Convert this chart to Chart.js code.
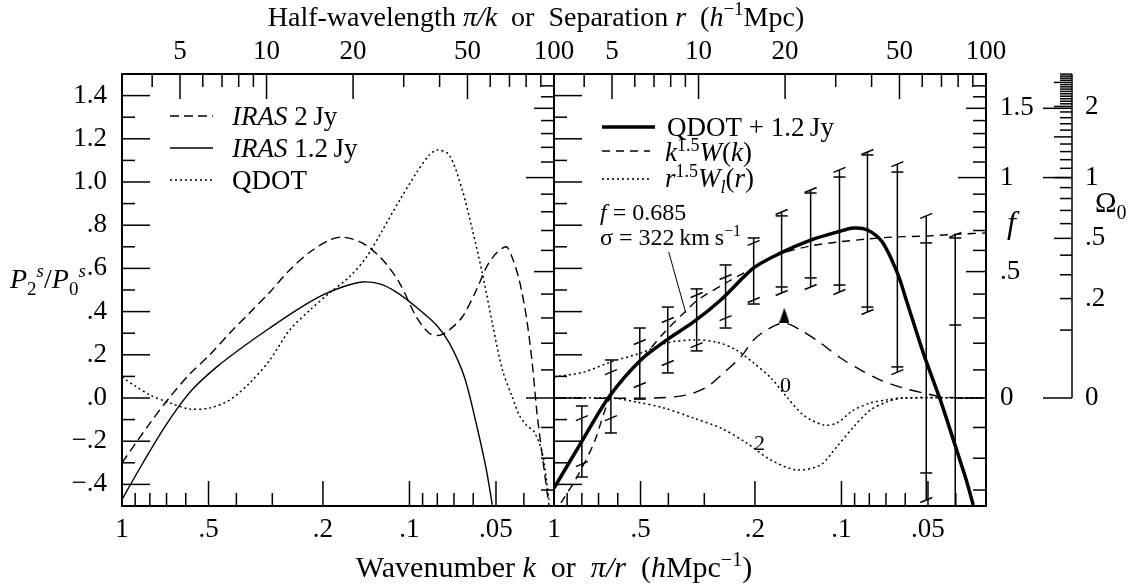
<!DOCTYPE html>
<html>
<head>
<meta charset="utf-8">
<title>P2/P0 ratio</title>
<script src="https://cdn.jsdelivr.net/npm/chart.js@4.4.1/dist/chart.umd.min.js"></script>
<style>
  html, body { margin: 0; padding: 0; background: #fff; }
  #wrap { width: 1140px; height: 588px; }
</style>
</head>
<body>
<div id="wrap"><canvas id="ratioChart" width="1140" height="588"></canvas></div>
<script>
const serif = "'Liberation Serif', 'Times New Roman', 'DejaVu Serif', serif";

// 左圖：IRAS 2 Jy / IRAS 1.2 Jy / QDOT 的 P2/P0
const kIras2 = [1.0, 0.799, 0.681, 0.581, 0.495, 0.422, 0.360, 0.306, 0.261, 0.222, 0.190, 0.171, 0.146, 0.124, 0.108, 0.0946, 0.0853, 0.0787, 0.0727, 0.0655, 0.0585, 0.0540, 0.0499, 0.0460, 0.0439, 0.0415, 0.0392, 0.0374, 0.0360, 0.0340, 0.0327];
const pIras2 = [-0.30, -0.116, 0.005, 0.111, 0.20, 0.30, 0.394, 0.49, 0.593, 0.676, 0.731, 0.745, 0.718, 0.64, 0.53, 0.375, 0.30, 0.29, 0.315, 0.375, 0.50, 0.605, 0.67, 0.70, 0.65, 0.546, 0.375, 0.162, -0.07, -0.333, -0.50];

const kIras12 = [1.0, 0.866, 0.721, 0.629, 0.567, 0.468, 0.380, 0.306, 0.247, 0.200, 0.171, 0.146, 0.127, 0.111, 0.0946, 0.0806, 0.0727, 0.0644, 0.0581, 0.0540, 0.0515];
const pIras12 = [-0.47, -0.324, -0.148, -0.032, 0.042, 0.144, 0.236, 0.324, 0.407, 0.477, 0.514, 0.537, 0.528, 0.49, 0.42, 0.338, 0.255, 0.097, -0.139, -0.333, -0.495];

const kQdot = [1.0, 0.901, 0.799, 0.681, 0.581, 0.495, 0.422, 0.360, 0.306, 0.261, 0.222, 0.190, 0.162, 0.141, 0.124, 0.108, 0.0946, 0.0853, 0.0799, 0.0727, 0.0655, 0.0604, 0.0558, 0.0515, 0.0475, 0.0439, 0.0415, 0.0392, 0.0368, 0.0345, 0.0327];
const pQdot = [0.097, 0.056, 0.014, -0.023, -0.051, -0.046, -0.009, 0.069, 0.176, 0.315, 0.407, 0.486, 0.56, 0.653, 0.778, 0.917, 1.042, 1.125, 1.148, 1.125, 0.963, 0.778, 0.579, 0.347, 0.13, 0.005, -0.079, -0.125, -0.157, -0.255, -0.472];

// 右圖：QDOT + 1.2 Jy 合併結果與模型
const kFit = [1.0, 0.806, 0.644, 0.499, 0.405, 0.327, 0.263, 0.202, 0.163, 0.128, 0.103, 0.0908, 0.0812, 0.0721, 0.0639, 0.0595, 0.0519, 0.0453, 0.0408, 0.0368, 0.0348];
const pFit = [-0.417, -0.208, 0.005, 0.176, 0.269, 0.352, 0.454, 0.602, 0.671, 0.731, 0.769, 0.787, 0.778, 0.722, 0.579, 0.454, 0.208, -0.009, -0.194, -0.38, -0.495];

const kModel = [0.946, 0.832, 0.726, 0.644, 0.571, 0.499, 0.415, 0.345, 0.316, 0.249, 0.191, 0.163, 0.128, 0.103, 0.0812, 0.0660, 0.0503, 0.0386, 0.0314];
const pModel = [-0.486, -0.366, -0.208, -0.009, 0.093, 0.176, 0.301, 0.407, 0.454, 0.537, 0.62, 0.667, 0.704, 0.722, 0.736, 0.745, 0.75, 0.759, 0.764];

const kWin = [1.0, 0.450, 0.345, 0.294, 0.257, 0.224, 0.202, 0.182, 0.159, 0.1388, 0.1183, 0.1007, 0.0859, 0.0732, 0.0609, 0.0519, 0.0442, 0.0377, 0.0314];
const pWin = [0, 0, 0.014, 0.051, 0.116, 0.19, 0.269, 0.315, 0.347, 0.315, 0.255, 0.185, 0.13, 0.083, 0.046, 0.023, 0.005, 0, 0];

const kWr0 = [1.0, 0.787, 0.634, 0.499, 0.405, 0.327, 0.272, 0.232, 0.202, 0.176, 0.155, 0.1355, 0.1155, 0.104, 0.0908, 0.0793, 0.0698, 0.0609, 0.0314];
const pWr0 = [0.097, 0.12, 0.167, 0.208, 0.255, 0.269, 0.259, 0.222, 0.162, 0.093, 0.005, -0.079, -0.125, -0.116, -0.056, -0.023, -0.009, 0, 0];

const kWr2 = [1.0, 0.634, 0.515, 0.415, 0.327, 0.263, 0.214, 0.176, 0.1433, 0.1183, 0.104, 0.0908, 0.0793, 0.0698, 0.0609, 0.0314];
const pWr2 = [0, 0, -0.019, -0.046, -0.093, -0.139, -0.208, -0.287, -0.333, -0.31, -0.227, -0.134, -0.056, -0.019, 0, 0];

// 誤差棒：水平帽 (hi/lo) 與斜帽 (hiT/loT)
const kBars = [0.80, 0.634, 0.503, 0.402, 0.319, 0.253, 0.202, 0.1615, 0.128, 0.1016, 0.0812, 0.0639, 0.0507, 0.0402];
const barHi = [-0.037, 0.176, 0.324, 0.421, 0.505, 0.616, 0.741, 0.843, 0.949, 1.023, 1.125, 1.046, 0.718, 0.741];
const barLo = [-0.366, -0.162, -0.005, 0.116, 0.218, 0.324, 0.435, 0.514, 0.556, 0.523, 0.421, 0.144, -0.347, 0.338];
const barHiT = [-0.093, 0.12, 0.259, 0.361, 0.477, 0.56, 0.718, 0.861, 0.963, 1.056, 1.139, 1.083, 0.843, 0.755];
const barLoT = [-0.306, -0.093, 0.06, 0.162, 0.245, 0.37, 0.454, 0.486, 0.514, 0.491, 0.398, 0.12, -0.472, -0.62];

// 箭頭與註解指標線
const kArrow = [0.158];
const pArrow = [0.384];
const kPointer = [0.399, 0.348];
const pPointer = [0.676, 0.394];

// 刻度
const kTickVals = [1, 0.5, 0.2, 0.1, 0.05];
const kTickLabels = ['1', '.5', '.2', '.1', '.05'];
const kMinor = [0.9, 0.8, 0.7, 0.6, 0.4, 0.3, 0.09, 0.08, 0.07, 0.06, 0.04];
const rTickVals = [5, 10, 20, 50, 100];
const rMinor = [4, 6, 7, 8, 9, 30, 40, 60, 70, 80, 90];
const yTickVals = [-0.4, -0.2, 0, 0.2, 0.4, 0.6, 0.8, 1.0, 1.2, 1.4];
const yTickLabels = ['\u2212.4', '\u2212.2', '.0', '.2', '.4', '.6', '.8', '1.0', '1.2', '1.4'];
const fTickVals = [0, 0.5, 1, 1.5];
const fTickLabels = ['0', '.5', '1', '1.5'];
const omegaTickVals = [0, 0.2, 0.5, 1, 2];
const omegaTickLabels = ['0', '.2', '.5', '1', '2'];

const Y_MIN = -0.5, Y_MAX = 1.5;
const K_MIN = Math.PI / 100, K_MAX = 1;

// 線性理論 (bias = 1)：f 對應到 P2/P0 軸，Omega0 = f^(1/0.6)
function ratioFromF(f) {
  return (4 * f / 3 + 4 * f * f / 7) / (1 + 2 * f / 3 + f * f / 5);
}
const ratioFromOmega = o => ratioFromF(Math.pow(o, 0.6));

const dashIras2 = [9, 5];
const dashModel = [8, 6];
const dashWin = [12, 8];
const dots = [2, 3];

const pts = (ks, ps) => ks.map((k, i) => ({ x: k, y: ps[i] }));
function curve(label, ks, ps, axis, style) {
  return Object.assign({
    type: 'line', label, data: pts(ks, ps), xAxisID: axis, yAxisID: 'y',
    borderColor: '#000', backgroundColor: '#000', borderWidth: 1.4,
    pointRadius: 0, fill: false, tension: 0.3
  }, style);
}

// 三角箭頭
const tri = document.createElement('canvas');
tri.width = 10; tri.height = 15;
const tctx = tri.getContext('2d');
tctx.beginPath(); tctx.moveTo(5, 0); tctx.lineTo(10, 15); tctx.lineTo(0, 15); tctx.closePath();
tctx.fillStyle = '#000'; tctx.fill();

function seg(ctx, x1, y1, x2, y2) {
  ctx.beginPath(); ctx.moveTo(x1, y1); ctx.lineTo(x2, y2); ctx.stroke();
}

function fontStr(size, italic) {
  return (italic ? 'italic ' : '') + size + 'px ' + serif;
}

// 混合斜體、上下標的文字
function rich(ctx, parts, x, y, size, align) {
  const segs = parts.map(([t, st]) => {
    const small = st.includes('sup') || st.includes('sub');
    const f = fontStr(small ? Math.round(size * 0.68) : size, st.startsWith('i'));
    ctx.font = f;
    const dy = st.includes('sup') ? -size * 0.38 : st.includes('sub') ? size * 0.24 : 0;
    return { t, f, dy, w: ctx.measureText(t).width };
  });
  const total = segs.reduce((a, s) => a + s.w, 0);
  let cx = align === 'center' ? x - total / 2 : align === 'right' ? x - total : x;
  ctx.textAlign = 'left';
  ctx.textBaseline = 'alphabetic';
  for (const s of segs) {
    ctx.font = s.f;
    ctx.fillText(s.t, cx, y + s.dy);
    cx += s.w;
  }
}

const tickFont = { family: serif, size: 27 };

function kAxis(position, stack, vals, labels, height, pad) {
  return {
    type: 'logarithmic', position, stack, min: K_MIN, max: K_MAX, reverse: true, bounds: 'data',
    grid: { display: false, drawTicks: false }, border: { display: false },
    afterBuildTicks: s => { s.ticks = vals.map((v, i) => ({ value: v, lab: labels[i] })); },
    afterFit: s => { s.height = height; },
    ticks: { autoSkip: false, maxRotation: 0, color: '#000', font: tickFont, padding: pad, callback: (v, i, t) => t[i].lab }
  };
}

function yAxis(position, vals, labels, width, pad) {
  return {
    type: 'linear', position, min: Y_MIN, max: Y_MAX, bounds: 'data',
    grid: { display: false, drawTicks: false }, border: { display: false },
    afterBuildTicks: s => { s.ticks = vals.map((v, i) => ({ value: v, lab: labels[i] })); },
    afterFit: s => { s.width = width; },
    ticks: { autoSkip: false, color: '#000', font: tickFont, padding: pad, callback: (v, i, t) => t[i].lab }
  };
}

const rVals = rTickVals.map(r => Math.PI / r);
const rLabels = rTickVals.map(String);

// 邊框與向內刻度、Omega0 軸、誤差棒
const marksPlugin = {
  id: 'marks',
  afterDatasetsDraw(chart) {
    const { ctx, chartArea: a, scales: s } = chart;
    const py = v => s.y.getPixelForValue(v);
    ctx.save();
    ctx.strokeStyle = '#000';
    ctx.setLineDash([]);

    // error bars
    ctx.lineWidth = 1.5;
    kBars.forEach((k, i) => {
      const x = s.xr.getPixelForValue(k);
      const top = Math.max(barHi[i], barHiT[i]);
      const bot = Math.min(barLo[i], barLoT[i]);
      seg(ctx, x, Math.max(py(top), a.top), x, Math.min(py(bot), a.bottom));
      [barHi[i], barLo[i]].forEach(v => {
        const y = py(v);
        if (y >= a.top && y <= a.bottom) seg(ctx, x - 6, y, x + 6, y);
      });
      [barHiT[i], barLoT[i]].forEach(v => {
        const y = py(v);
        if (y >= a.top && y <= a.bottom) seg(ctx, x - 6, y + 2.5, x + 6, y - 2.5);
      });
    });

    for (const [bx, tx] of [[s.xl, s.tl], [s.xr, s.tr]]) {
      ctx.lineWidth = 1.5;
      kTickVals.concat(kMinor).forEach(k => {
        if (k >= 1) return;
        const x = bx.getPixelForValue(k);
        seg(ctx, x, a.bottom, x, a.bottom - (kTickVals.includes(k) ? 25 : 13));
      });
      rTickVals.concat(rMinor).forEach(r => {
        if (r >= 100) return;
        const x = tx.getPixelForValue(Math.PI / r);
        seg(ctx, x, a.top, x, a.top + (rTickVals.includes(r) ? 25 : 13));
      });
      for (let i = -4; i <= 14; i++) {
        const y = py(i / 10);
        seg(ctx, bx.left, y, bx.left + (i % 2 === 0 ? 28 : 13), y);
      }
      for (let i = -3; i <= 18; i++) {
        const v = ratioFromF(i / 10);
        if (v > Y_MAX - 0.01) continue;
        const y = py(v);
        const len = (i === 0 || i === 10) ? 28 : (i === 5 || i === 15) ? 20 : 13;
        seg(ctx, bx.right, y, bx.right - len, y);
      }
      ctx.lineWidth = 2;
      ctx.strokeRect(bx.left, a.top, bx.right - bx.left, a.bottom - a.top);
    }

    // Omega0 axis
    const xo = s.yo.left;
    ctx.lineWidth = 1.5;
    seg(ctx, xo, a.top, xo, py(0));
    for (let i = 1; i <= 20; i++) {
      const v = ratioFromOmega(i / 10);
      seg(ctx, xo, py(v), xo - (i % 5 === 0 ? 18 : 12), py(v));
    }
    for (let i = 41; i <= 54; i++) {
      const v = ratioFromOmega(i / 20);
      if (v > Y_MAX) break;
      seg(ctx, xo, py(v), xo - (i === 50 ? 18 : 12), py(v));
    }
    [0, 1, 1.5].forEach(f => {
      const y = py(ratioFromF(f));
      seg(ctx, xo, y, xo - 29, y);
    });
    ctx.restore();
  }
};

// 標題、圖例與註解
const textPlugin = {
  id: 'texts',
  afterDraw(chart) {
    const ctx = chart.ctx;
    ctx.save();
    ctx.fillStyle = '#000';
    ctx.strokeStyle = '#000';

    rich(ctx, [['Half-wavelength ', ''], ['\u03c0/k', 'i'], ['  or  Separation ', ''], ['r', 'i'], ['  (', ''], ['h', 'i'], ['\u22121', 'sup'], ['Mpc)', '']], 536, 26, 28, 'center');
    rich(ctx, [['Wavenumber ', ''], ['k', 'i'], ['  or  ', ''], ['\u03c0/r', 'i'], ['  (', ''], ['h', 'i'], ['Mpc', ''], ['\u22121', 'sup'], [')', '']], 554, 577, 30, 'center');
    rich(ctx, [['P', 'i'], ['2', 'sub'], ['s', 'isup'], ['/', ''], ['P', 'i'], ['0', 'sub'], ['s', 'isup']], 10, 288, 28, 'left');

    const sample = (x1, x2, y, dash, w) => {
      ctx.setLineDash(dash); ctx.lineWidth = w; seg(ctx, x1, y, x2, y);
    };
    // 左圖例
    sample(170, 213, 116, dashIras2, 1.4);
    rich(ctx, [['IRAS', 'i'], [' 2\u2009Jy', '']], 232, 125, 27, 'left');
    sample(170, 213, 148, [], 1.4);
    rich(ctx, [['IRAS', 'i'], [' 1.2\u2009Jy', '']], 232, 157, 27, 'left');
    sample(170, 213, 180, dots, 1.5);
    rich(ctx, [['QDOT', '']], 232, 189, 27, 'left');
    // 右圖例
    sample(602, 655, 127, [], 3.5);
    rich(ctx, [['QDOT + 1.2\u2009Jy', '']], 667, 136, 27, 'left');
    sample(602, 650, 151, dashModel, 1.4);
    rich(ctx, [['k', 'i'], ['1.5', 'sup'], ['W', 'i'], ['(', ''], ['k', 'i'], [')', '']], 665, 161, 27, 'left');
    sample(602, 650, 179, dots, 1.5);
    rich(ctx, [['r', 'i'], ['1.5', 'sup'], ['W', 'i'], ['l', 'isub'], ['(', ''], ['r', 'i'], [')', '']], 665, 187, 27, 'left');
    ctx.setLineDash([]);

    rich(ctx, [['f', 'i'], [' = 0.685', '']], 600, 220, 24, 'left');
    rich(ctx, [['\u03c3 = 322\u2009km\u2009s', ''], ['\u22121', 'sup']], 600, 245, 24, 'left');
    rich(ctx, [['0', '']], 780, 392, 22, 'left');
    rich(ctx, [['2', '']], 754, 450, 22, 'left');

    rich(ctx, [['f', 'i']], 1007, 233, 32, 'left');
    rich(ctx, [['\u03a9', ''], ['0', 'sub']], 1095, 212, 29, 'left');
    ctx.restore();
  }
};

const ratioCtx = document.getElementById('ratioChart').getContext('2d');
new Chart(ratioCtx, {
  type: 'line',
  data: {
    datasets: [
      curve('IRAS 2 Jy', kIras2, pIras2, 'xl', { borderDash: dashIras2 }),
      curve('IRAS 1.2 Jy', kIras12, pIras12, 'xl', {}),
      curve('QDOT', kQdot, pQdot, 'xl', { borderDash: dots, borderWidth: 1.5 }),
      curve('QDOT + 1.2 Jy', kFit, pFit, 'xr', { borderWidth: 3.5 }),
      curve('k^1.5 W(k)', kModel, pModel, 'xr', { borderDash: dashModel }),
      curve('window', kWin, pWin, 'xr', { borderDash: dashWin }),
      curve('r^1.5 W_0(r)', kWr0, pWr0, 'xr', { borderDash: dots, borderWidth: 1.5 }),
      curve('r^1.5 W_2(r)', kWr2, pWr2, 'xr', { borderDash: dots, borderWidth: 1.5 }),
      curve('pointer', kPointer, pPointer, 'xr', { borderWidth: 1, tension: 0 }),
      curve('arrow', kArrow, pArrow, 'xr', { showLine: false, pointRadius: 6, pointStyle: tri })
    ]
  },
  options: {
    responsive: false,
    devicePixelRatio: 1,
    animation: false,
    events: [],
    layout: { padding: 0 },
    plugins: {
      legend: { display: false },
      title: { display: false },
      tooltip: { enabled: false }
    },
    scales: {
      xl: kAxis('bottom', 'k', kTickVals, kTickLabels, 82, 8),
      xr: kAxis('bottom', 'k', kTickVals, kTickLabels, 82, 8),
      tr: kAxis('top', 'r', rVals, rLabels, 74, 6),
      tl: kAxis('top', 'r', rVals, rLabels, 74, 6),
      y: yAxis('left', yTickVals, yTickLabels, 122, 15),
      yf: yAxis('right', fTickVals.map(ratioFromF), fTickLabels, 86, 14),
      yo: yAxis('right', omegaTickVals.map(ratioFromOmega), omegaTickLabels, 68, 13)
    }
  },
  plugins: [marksPlugin, textPlugin]
});
</script>
</body>
</html>
